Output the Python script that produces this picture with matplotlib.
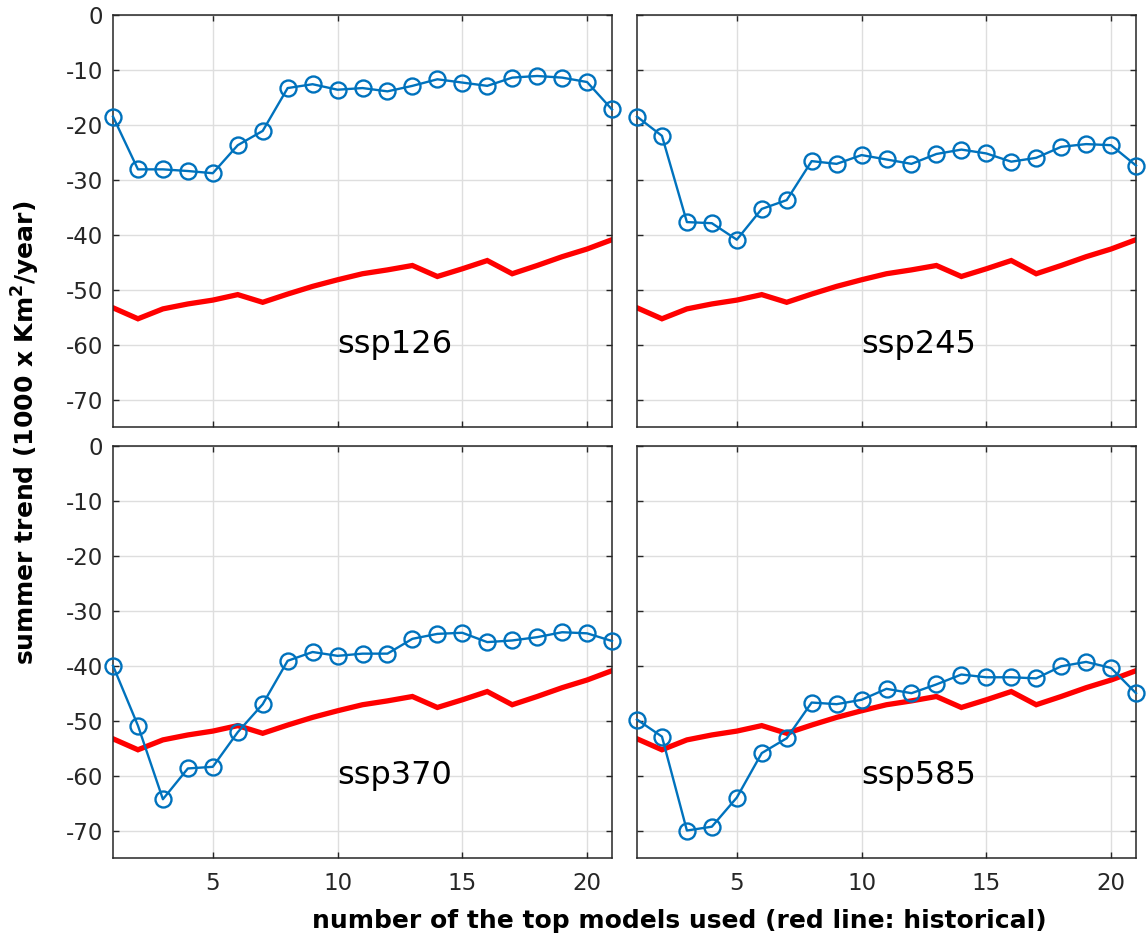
import numpy as np
import matplotlib
import matplotlib.pyplot as plt

matplotlib.use("agg")
plt.rcParams["axes.unicode_minus"] = False

n_models = np.arange(1, 22)

# historical trend (red line), same in every panel
historical = [-53.3, -55.3, -53.5, -52.6, -51.9, -50.9, -52.3, -50.8, -49.4, -48.2,
              -47.1, -46.4, -45.6, -47.6, -46.2, -44.7, -47.1, -45.6, -44.0, -42.6, -40.9]

ssp126 = [-18.5, -28.1, -28.1, -28.4, -28.8, -23.7, -21.1, -13.3, -12.6, -13.6,
          -13.3, -13.9, -12.9, -11.7, -12.3, -12.9, -11.4, -11.1, -11.4, -12.2, -17.2]
ssp245 = [-18.5, -22.0, -37.7, -37.9, -40.9, -35.3, -33.7, -26.6, -27.1, -25.5,
          -26.3, -27.1, -25.3, -24.5, -25.2, -26.7, -26.0, -24.0, -23.5, -23.7, -27.4]
ssp370 = [-40.0, -50.9, -64.3, -58.7, -58.4, -52.1, -47.0, -39.1, -37.5, -38.2,
          -37.8, -37.8, -35.1, -34.2, -34.0, -35.7, -35.4, -34.8, -33.9, -34.1, -35.5]
ssp585 = [-49.8, -52.9, -70.0, -69.3, -64.0, -55.9, -53.2, -46.7, -47.0, -46.2,
          -44.2, -45.0, -43.4, -41.6, -42.1, -42.1, -42.3, -40.1, -39.3, -40.4, -45.0]

scenarios = ["ssp126", "ssp245", "ssp370", "ssp585"]
series = [ssp126, ssp245, ssp370, ssp585]

x_ticks = [5, 10, 15, 20]
y_ticks = [-70, -60, -50, -40, -30, -20, -10, 0]

W, H = 1146, 939
fig = plt.figure(figsize=(W / 100, H / 100), dpi=100)

# panel boxes in pixels: (left, top, right, bottom)
boxes = [(113, 15, 612, 427), (637, 15, 1136, 427),
         (113, 446, 612, 858), (637, 446, 1136, 858)]

edge = "#262626"
for k, (name, vals) in enumerate(zip(scenarios, series)):
    l, t, r, b = boxes[k]
    ax = fig.add_axes([l / W, 1 - b / H, (r - l) / W, (b - t) / H])
    ax.set_xlim(1, 21)
    ax.set_ylim(-75, 0)
    ax.set_xticks(x_ticks)
    ax.set_yticks(y_ticks)
    ax.grid(True, color="#dedede", lw=1.0)
    ax.set_axisbelow(True)
    for s in ax.spines.values():
        s.set_color(edge)
        s.set_linewidth(1.1)
    ax.tick_params(direction="in", length=4, width=1.0, color=edge,
                   top=True, right=True, labelsize=16.5, labelcolor=edge)
    ax.tick_params(axis="x", pad=10)
    ax.tick_params(axis="y", pad=7)
    if k % 2 == 1:
        ax.set_yticklabels([])
    if k < 2:
        ax.set_xticklabels([])

    ax.plot(n_models, historical, color="red", lw=3.8, solid_joinstyle="miter", zorder=2)
    ax.plot(n_models, vals, color="#0072BD", lw=1.7, marker="o", ms=11.5,
            mfc="none", mew=1.7, clip_on=False, zorder=3)
    ax.text(10, -60, name, fontsize=23, ha="left", va="center", color="black")

fig.text(0.023, 0.539, "summer trend (1000 x Km$^\\mathbf{2}$/year)", rotation=90,
         ha="center", va="center", fontsize=18, fontweight="bold")
fig.text(0.593, 0.019, "number of the top models used (red line: historical)",
         ha="center", va="center", fontsize=18, fontweight="bold")

fig.savefig("out.png", dpi=100)
